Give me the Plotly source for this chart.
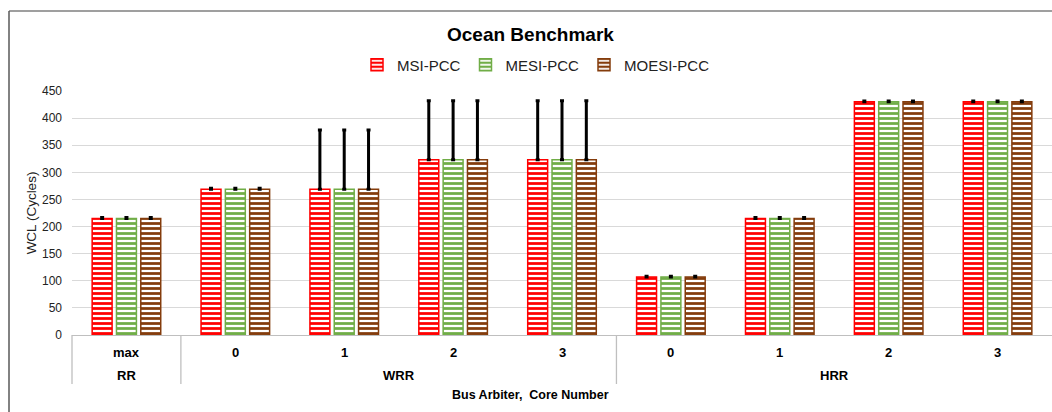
import plotly.graph_objects as go

# Bus arbiter groups and core numbers (two-level category axis)
arbiters = ["RR", "WRR", "WRR", "WRR", "WRR", "HRR", "HRR", "HRR", "HRR"]
cores = ["max", "0", "1", "2", "3", "0", "1", "2", "3"]

# Worst-case latency (cycles) per protocol
msi_pcc = [215, 269, 269, 323, 323, 107, 215, 430, 430]
mesi_pcc = [215, 269, 269, 323, 323, 107, 215, 430, 430]
moesi_pcc = [215, 269, 269, 323, 323, 107, 215, 430, 430]

# Upper error extent above each bar
err_plus = [1.5, 1.5, 109, 109, 109, 1.5, 1.5, 1.5, 1.5]

series = [
    ("MSI-PCC", msi_pcc, "#ff0000"),
    ("MESI-PCC", mesi_pcc, "#70ad47"),
    ("MOESI-PCC", moesi_pcc, "#843c0c"),
]

FONT = "Liberation Sans, Arial, sans-serif"

# plot-area geometry in pixels
W, H = 1052, 412
L, R, T, B = 72, 0, 91, 77
PW, PH = W - L - R, H - T - B


def px_x(px):
    return (px - L) / PW


def px_y(py):
    return (H - B - py) / PH


fig = go.Figure()
for name, vals, col in series:
    fig.add_trace(go.Bar(
        name=name,
        x=[arbiters, cores],
        y=vals,
        marker=dict(
            color="white",
            line=dict(color=col, width=1.5),
            pattern=dict(shape="-", fgcolor=col, bgcolor="white",
                         size=5, solidity=0.55, fillmode="replace"),
        ),
        error_y=dict(type="data", symmetric=False, array=err_plus,
                     arrayminus=[0] * len(err_plus),
                     color="black", thickness=3, width=2),
    ))

# Two-level category labels and group dividers below the axis
n = len(cores)
annotations = []
shapes = []
for i, c in enumerate(cores):
    annotations.append(dict(text=f"<b>{c}</b>", xref="paper", yref="paper",
                            x=(i + 0.5) / n, y=px_y(352), xanchor="center", yanchor="middle",
                            showarrow=False, font=dict(size=13, family=FONT, color="#000000")))
groups = []
for i, a in enumerate(arbiters):
    if not groups or groups[-1][0] != a:
        groups.append([a, i, i])
    else:
        groups[-1][2] = i
for a, i0, i1 in groups:
    annotations.append(dict(text=f"<b>{a}</b>", xref="paper", yref="paper",
                            x=((i0 + i1) / 2 + 0.5) / n, y=px_y(375), xanchor="center", yanchor="middle",
                            showarrow=False, font=dict(size=13, family=FONT, color="#000000")))
    shapes.append(dict(type="line", xref="paper", yref="paper",
                       x0=i0 / n, x1=i0 / n, y0=0, y1=px_y(384),
                       line=dict(color="#bfbfbf", width=1.3)))

annotations += [
    dict(text="<b>Ocean Benchmark</b>", xref="paper", yref="paper",
         x=px_x(530), y=px_y(34), xanchor="center", yanchor="middle",
         showarrow=False, font=dict(size=19, family=FONT, color="#000000")),
    dict(text="<b>Bus Arbiter,  Core Number</b>", xref="paper", yref="paper",
         x=px_x(530), y=px_y(395), xanchor="center", yanchor="middle",
         showarrow=False, font=dict(size=12.5, family=FONT, color="#000000")),
]
# Outer chart frame: top and left edges
shapes += [
    dict(type="line", xref="paper", yref="paper",
         x0=px_x(9), x1=px_x(W), y0=px_y(11), y1=px_y(11),
         line=dict(color="#404040", width=1.2), layer="below"),
    dict(type="line", xref="paper", yref="paper",
         x0=px_x(9), x1=px_x(9), y0=px_y(11), y1=px_y(H),
         line=dict(color="#595959", width=1.5), layer="below"),
]

fig.update_layout(
    width=W, height=H,
    margin=dict(l=L, r=R, t=T, b=B),
    paper_bgcolor="white", plot_bgcolor="white",
    font=dict(family=FONT, color="#000000"),
    barmode="group", bargap=0.33, bargroupgap=0.18,
    showlegend=True,
    legend=dict(orientation="h", x=px_x(536), xanchor="center", y=px_y(65), yanchor="middle",
                font=dict(size=15, family=FONT, color="#222222"),
                itemwidth=30, tracegroupgap=0, bgcolor="rgba(0,0,0,0)"),
    annotations=annotations,
    shapes=shapes,
)

fig.update_yaxes(
    range=[0, 450], dtick=50, showgrid=True, gridcolor="#d9d9d9", gridwidth=1,
    zeroline=False, showline=False,
    tickfont=dict(size=12, family=FONT, color="#222222"),
    ticklabelstandoff=9,
    title=dict(text="WCL (Cycles)", font=dict(size=13.5, family=FONT, color="#222222"), standoff=2),
)
fig.update_xaxes(
    type="multicategory", showline=True, linecolor="#bfbfbf", linewidth=1.3,
    showgrid=False, ticks="", showticklabels=False, showdividers=False,
)

fig.write_html("out.html", config={"displayModeBar": False})
